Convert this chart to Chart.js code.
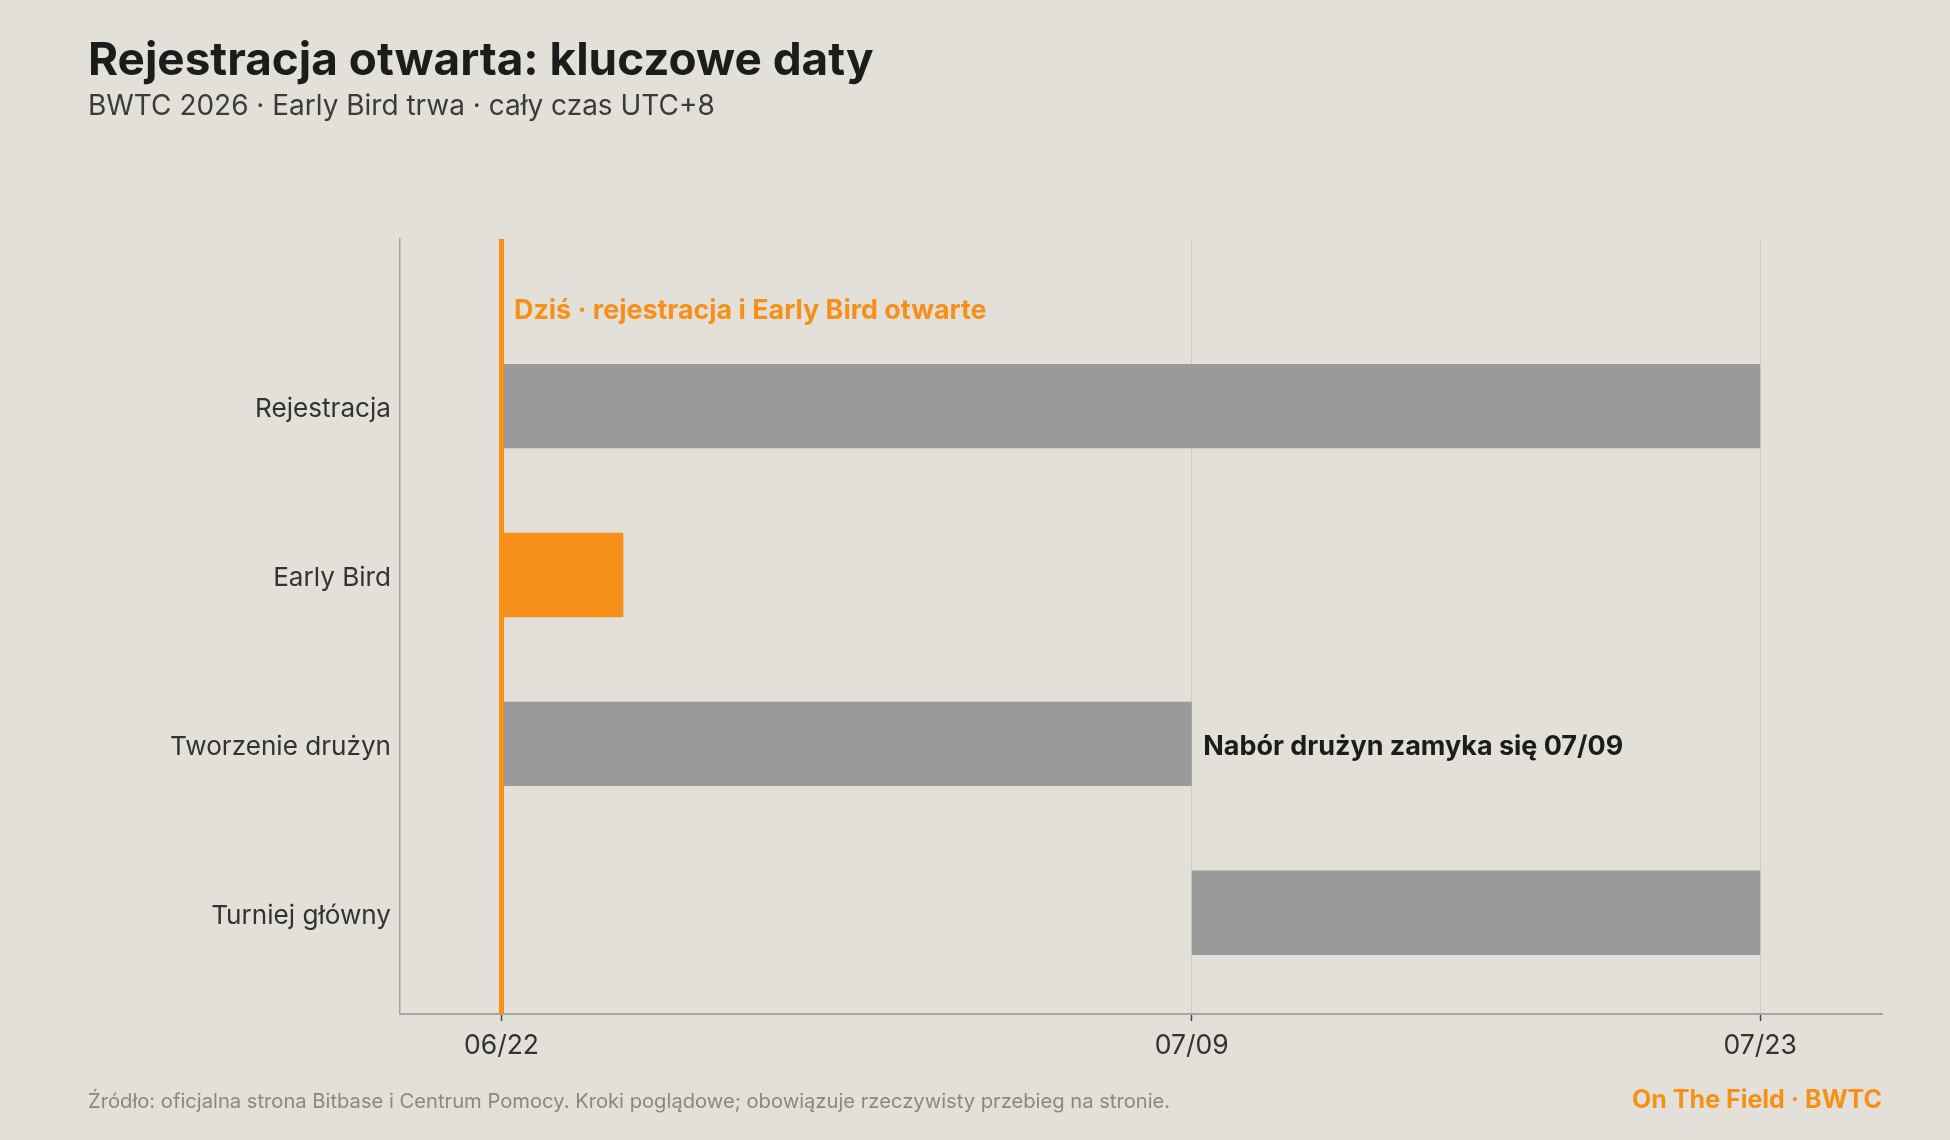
<!DOCTYPE html>
<html><head><meta charset="utf-8">
<script src="https://cdn.jsdelivr.net/npm/chart.js@4.4.1/dist/chart.umd.min.js"></script>
<style>
html,body{margin:0;padding:0;background:#e3dfd9;}
#wrap{position:relative;width:1950px;height:1140px;overflow:hidden;background:#e3dfd9;}
#c{position:absolute;left:0;top:0;}
.t{position:absolute;white-space:nowrap;line-height:1;font-family:Inter, "Open Sans", sans-serif;}
</style></head>
<body><div id="wrap">
<canvas id="c" width="1950" height="1140"></canvas>
<div class="t" id="title">Rejestracja otwarta: kluczowe daty</div>
<div class="t" id="subtitle">BWTC 2026 · Early Bird trwa · cały czas UTC+8</div>
<div class="t" id="source">Źródło: oficjalna strona Bitbase i Centrum Pomocy. Kroki poglądowe; obowiązuje rzeczywisty przebieg na stronie.</div>
<div class="t" id="brand">On The Field · BWTC</div>
</div>
<script>
// ---- data ----
const phases = ['Rejestracja', 'Early Bird', 'Tworzenie drużyn', 'Turniej główny'];
const startDates = ['06/22', '06/22', '06/22', '07/09'];
const endDates = ['07/23', '06/25', '07/09', '07/23'];
const highlightPhase = 'Early Bird';
const tickDates = ['06/22', '07/09', '07/23'];
const todayDate = '06/22';
const todayNote = 'Dziś · rejestracja i Early Bird otwarte';
const teamCloseDate = '07/09';
const teamClosePhase = 'Tworzenie drużyn';
const teamCloseNote = 'Nabór drużyn zamyka się 07/09';
const YEAR = 2026;

// ---- helpers ----
const FONT = 'Inter';
const ORANGE = '#f79019';
const GREY = '#9a9a9a';
function toUTC(md){ const [m,d] = md.split('/').map(Number); return Date.UTC(YEAR, m-1, d); }
const baseDate = toUTC(startDates[0]);
function dayOffset(md){ return (toUTC(md) - baseDate) / 86400000; }

const mctx = document.createElement('canvas').getContext('2d');
function fit(text, weight, target){ mctx.font = weight + ' 100px ' + FONT; return 100 * target / mctx.measureText(text).width; }

function place(id, weight, color, size, left, cy, right){
  const el = document.getElementById(id);
  el.style.fontWeight = weight; el.style.color = color; el.style.fontSize = size + 'px';
  el.style.top = (cy - size*0.5) + 'px';
  if (right !== undefined) el.style.right = (1950 - right) + 'px'; else el.style.left = left + 'px';
}
place('title', 700, '#1c1c1c', fit('Rejestracja otwarta: kluczowe daty', 700, 786), 88, 59);
place('subtitle', 400, '#3b3b3b', fit('BWTC 2026 · Early Bird trwa · cały czas UTC+8', 400, 627), 88, 105);
place('source', 400, '#8c8781', fit(document.getElementById('source').textContent, 400, 1083), 88, 1101);
place('brand', 700, ORANGE, fit('On The Field · BWTC', 700, 250), 0, 1100, 1882);

const ySize = fit('Tworzenie drużyn', 400, 221);
const xSize = fit('07/09', 400, 74);
const todaySize = fit(todayNote, 700, 473);
const closeSize = fit(teamCloseNote, 700, 420);

const barData = phases.map((p, i) => ({ x: [dayOffset(startDates[i]), dayOffset(endDates[i])], y: i }));
const barColors = phases.map(p => p === highlightPhase ? ORANGE : GREY);
const tickValues = tickDates.map(dayOffset);

const overlay = {
  id: 'overlay',
  afterDatasetsDraw(chart){
    const { ctx, chartArea, scales: { x, y } } = chart;
    const xp = x.getPixelForValue(dayOffset(todayDate));
    ctx.save();
    ctx.strokeStyle = ORANGE; ctx.lineWidth = 5;
    ctx.beginPath(); ctx.moveTo(xp, chartArea.top); ctx.lineTo(xp, chartArea.bottom); ctx.stroke();
    ctx.textAlign = 'left'; ctx.textBaseline = 'middle';
    ctx.fillStyle = ORANGE; ctx.font = '700 ' + todaySize + 'px ' + FONT;
    ctx.fillText(todayNote, xp + 12.5, y.getPixelForValue(-0.575) + 2);
    const xc = x.getPixelForValue(dayOffset(teamCloseDate));
    ctx.fillStyle = '#1c1c1c'; ctx.font = '700 ' + closeSize + 'px ' + FONT;
    ctx.fillText(teamCloseNote, xc + 11.5, y.getPixelForValue(phases.indexOf(teamClosePhase)) + 3);
    ctx.restore();
  }
};

new Chart(document.getElementById('c'), {
  type: 'bar',
  data: { datasets: [{ data: barData, backgroundColor: barColors, borderWidth: 0, borderSkipped: false,
    categoryPercentage: 1, barPercentage: 0.5 }] },
  options: {
    indexAxis: 'y',
    responsive: false,
    animation: false,
    layout: { padding: { left: 0, top: 239, right: 68, bottom: 66 } },
    plugins: { legend: { display: false }, tooltip: { enabled: false } },
    scales: {
      x: {
        type: 'linear', min: -2.5, max: 34, offset: false,
        afterBuildTicks: s => { s.ticks = tickValues.map(v => ({ value: v })); },
        afterFit: s => { s.height = 60; },
        ticks: { autoSkip: false, maxRotation: 0, padding: 9, color: '#333333',
          font: { family: FONT, size: xSize }, callback: (v, i) => tickDates[i] },
        grid: { display: true, offset: false, color: '#d2cdc6', lineWidth: 1, drawTicks: true, tickLength: 7, tickColor: '#444444', tickWidth: 1.5 },
        border: { display: true, color: '#a6a6a6', width: 2 }
      },
      y: {
        type: 'linear', min: -0.99, max: 3.6, reverse: true, offset: false,
        afterBuildTicks: s => { s.ticks = phases.map((p, i) => ({ value: i })); },
        afterFit: s => { s.width = 400; },
        ticks: { autoSkip: false, padding: 9, labelOffset: 3, color: '#333333',
          font: { family: FONT, size: ySize }, callback: (v, i) => phases[i] },
        grid: { display: false, offset: false, drawTicks: false, tickLength: 0 },
        border: { display: true, color: '#a6a6a6', width: 1.5 }
      }
    }
  },
  plugins: [overlay]
});
</script>
</body></html>
